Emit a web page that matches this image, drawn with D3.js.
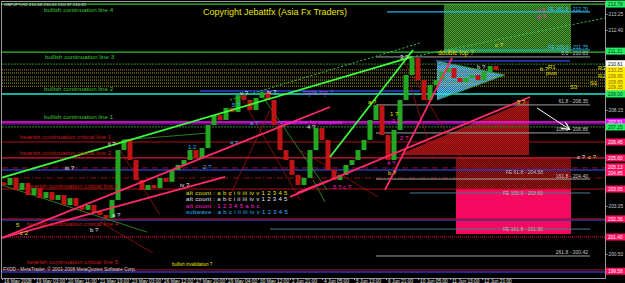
<!DOCTYPE html>
<html>
<head>
<meta charset="utf-8">
<script src="https://cdn.jsdelivr.net/npm/d3@7"></script>
<style>
  body { margin: 0; background: #000; }
  svg { display: block; font-family: 'Liberation Sans', Arial, sans-serif; }
</style>
</head>
<body>
<div id="graf"></div>
<script>
// closes, one every 3 bars (H2), first at bar 1
const firstOpen = 204.30
const closes = [204.16, 204.54, 203.90, 204.27, 203.63, 204.00, 203.47, 203.79, 203.37, 203.63,
  203.10, 203.47, 203.05, 202.84, 203.10, 202.73, 202.57, 202.41, 203.37, 206.02,
  206.56, 205.49, 204.43, 203.90, 204.16, 204.00, 204.54, 204.33, 204.96, 205.23,
  205.49, 206.02, 205.60, 206.13, 207.35, 207.88, 207.62, 208.26, 208.04, 208.94,
  208.68, 208.15, 208.79, 209.10, 208.68, 207.35, 206.02, 205.49, 204.70, 204.16,
  204.54, 206.02, 207.19, 206.56, 204.96, 204.43, 204.70, 205.23, 205.49, 206.02,
  206.56, 207.62, 208.41, 206.82, 205.49, 207.09, 208.68, 210.01, 210.91, 209.74,
  208.68, 209.48, 209.74, 210.17, 210.38, 209.85, 209.64, 209.85, 210.01, 209.74,
  210.17, 210.49, 210.28]

const timeLabels = ['16 May 2008', '19 May 03:00', '20 May 11:00', '21 May 19:00', '23 May 03:00',
  '26 May 12:00', '27 May 20:00', '29 May 04:00', '30 May 12:00', '2 Jun 21:00', '4 Jun 05:00',
  '5 Jun 13:00', '6 Jun 21:00', '10 Jun 05:00', '11 Jun 13:00', '12 Jun 21:00']

const priceTicks = [213.25, 212.40, 211.55, 210.70, 209.85, 209.00, 208.15, 207.30, 206.45,
  205.60, 204.75, 203.90, 203.05, 202.20, 201.35, 200.50]

const levelPrices = [213.78, 211.23, 209.00, 207.51, 206.45, 205.60, 203.95, 202.36, 199.65]
const levelNames = ['bullish continuation line 4', 'bullish continuation line 3',
  'bullish continuation line 2', 'bullish continuation line 1',
  'bearish continuation critical line 1', 'bearish continuation critical line 2',
  'bearish continuation critical line 3', 'bearish continuation critical line 4',
  'bearish continuation critical line 5']
const levelKinds = ['bull', 'bull', 'cyan', 'magenta', 'bear', 'bear2', 'bear', 'bear', 'bear']

const minorPrices = [210.59, 210.28, 210.12, 209.90, 209.74, 209.58, 209.42, 207.41, 207.25,
  205.07, 204.96, 204.54, 202.30, 201.40, 199.54]
const minorKinds = ['greenDot', 'pivot', 'pivot', 'pivot', 'pivot', 'pivot', 'pivot', 'purple',
  'greenDot', 'redDash', 'navy', 'redDashDot', 'navy', 'pinkDot', 'navy']

// partial horizontal segments: [bar from, bar to, price]
const cyanSegs = [[192.5, 294, 213.36], [221, 294, 211.34]]
const blueSegs = [[217, 284, 210.75], [99, 209, 209.16]]
const steelSegs = [[204, 294, 203.74], [134, 294, 201.82]]
const fibSegs = [[187, 294, 210.97], [187, 294, 208.42], [187, 294, 206.93], [187, 294, 204.48], [187, 294, 200.39]]
const fibNames = ['0.0 - 210.83', '61.8 - 208.35', '100.0 - 206.86', '161.8 - 204.40', '261.8 - 200.42']
const feNames = ['FE 161.8 - 212.70', 'FE 100.0 - 211.75']
const feZoneNames = ['FE 61.8 - 204.58', 'FE 100.0 - 203.60', 'FE 161.8 - 201.90']
const feZonePrices = [204.85, 203.74, 201.82]

// zones: [bar from, bar to, price low, price high]
const greenZone = [221, 284.5, 211.23, 213.78]
const redZone = [227, 284.5, 203.95, 205.60]
const pinkZone = [227, 284.5, 201.56, 203.95]
const redWedge = [[198, 205.76], [263.5, 208.68], [263.5, 205.76]]
const triangle = [[217.5, 210.75], [217.5, 208.68], [251.5, 210.01]]

// trend lines: [bar1, price1, bar2, price2]
const limeLines = [[0, 204.56, 205, 210.97], [164, 205.65, 205.5, 211.34]]
const limeDotted = [[114, 208.68, 209, 211.71], [205, 210.97, 301.5, 213.04]]
const pinkLines = [[0, 201.35, 164, 208.31], [0, 201.35, 111.5, 204.59], [144, 203.53, 264, 208.84],
  [191.5, 203.90, 225, 210.91], [147.5, 203.74, 163, 204.38]]
const redLines = [[49, 202.20, 75.5, 200.55], [59, 206.02, 79, 202.57], [119, 208.95, 149, 203.37],
  [134, 208.15, 113, 203.37], [149, 206.02, 188, 203.53], [204, 209.48, 215.5, 205.71],
  [200, 210.90, 232, 205.20]]
const greenLines = [[0, 204.16, 72.5, 201.66], [130.5, 208.84, 162.5, 203.90], [60.5, 206.56, 104, 206.93],
  [155.5, 204.43, 161.5, 203.26], [217.5, 210.75, 251.5, 210.01], [217.5, 208.68, 251.5, 210.01]]
const arrowLine = [267.5, 208.26, 283.5, 207.14]

// wave labels: [bar, price, text, count]
const waves = [[7, 202.04, '5', 'alt1'], [9, 201.61, 'c 2', 'alt1'], [44, 201.75, 'b ?', 'alt2'],
  [55, 202.57, 'a ?', 'alt2'], [53, 206.36, 'ii ?', 'alt2'], [31.5, 205.07, 'iii ?', 'alt2'],
  [89, 204.16, 'iv ?', 'alt2'], [93, 206.18, '1 2', 'sub'], [100.5, 205.12, '2 ?', 'sub'],
  [115, 208.42, '5 ?', 'sub'], [114, 206.40, '4 ?', 'sub'], [124, 207.46, 'a ?', 'sub'],
  [119, 209.05, 'v ?', 'alt2'], [132.5, 209.11, 'iv ?', 'alt2'], [152.5, 207.25, '4 ?', 'alt2'],
  [183, 208.58, 'a ?', 'alt1'], [194, 207.94, '1 ?', 'alt1'], [195, 207.57, '1 2', 'alt3'],
  [199, 206.66, '2 ?', 'alt3'], [192.5, 205.33, '4 ?', 'alt3'], [193, 204.80, 'b ?', 'alt1'],
  [165.5, 204.06, '5 ? c ?', 'alt3'], [199, 210.97, '3 ?', 'alt2'], [246.5, 211.61, 'c ?', 'alt1'],
  [237.5, 210.44, 'b ?', 'alt2'], [269, 210.33, 'b ?', 'alt1'], [257.5, 208.58, '5 ?', 'alt1'],
  [287.5, 205.65, 'c ?', 'alt2'], [293, 205.65, 'c ?', 'alt1'], [267.5, 213.46, 'v ?', 'alt3'],
  [267.5, 213.10, 'iii ?', 'alt3']]

const legendLines = ['alt count : a b c i ii iii iv v 1 2 3 4 5', 'alt count : a b c i ii iii iv v 1 2 3 4 5',
  'alt count : 1 2 3 4 5 a b c', 'subwave : a b c i ii iii iv v 1 2 3 4 5']
const legendCounts = ['alt1', 'alt2', 'alt3', 'sub']

// right price boxes
const boxPrices = [213.78, 211.28, 210.61, 210.25, 209.95, 209.65, 209.35, 209.00, 207.51,
  207.25, 206.45, 205.60, 205.13, 204.82, 203.95, 202.36, 201.40, 199.58]
const boxTexts = ['213.78', '211.31', '210.61', '210.25', '209.95', '209.65', '209.35',
  '209.00', '207.51', '207.25', '206.45', '205.60', '205.13', '204.85', '203.95', '202.36', '201.40', '199.58']
const boxKinds = ['green', 'green', 'white', 'yellow', 'yellow', 'yellow', 'yellow', 'green',
  'magenta', 'green', 'pink', 'pink', 'pink', 'pink', 'pink', 'pink', 'pink', 'pink']

const W = 625, H = 283
const svg = d3.select('#graf').append('svg').attr('width', W).attr('height', H)

const x = d3.scaleLinear().domain([0, 301.5]).range([2, 605])
const y = d3.scaleLinear().domain([199.22, 213.89]).range([278, 2])

const countColor = { alt1: '#e6e600', alt2: '#e8e8e8', alt3: '#ff22cc', sub: '#22b8ff' }
const levelStyle = {
  bull: { c: '#2ec02e', w: 1.2 }, cyan: { c: '#22e8d0', w: 1.5 }, magenta: { c: '#ff10ff', w: 1.5 },
  bear: { c: '#b01010', w: 1 }, bear2: { c: '#d81838', w: 1.2 }
}
const minorStyle = {
  greenDot: { c: '#2a8a2a', w: 1, d: '2,1' }, pivot: { c: '#a8a020', w: 1, d: '1,1' },
  purple: { c: '#a020c0', w: 1, d: null }, redDash: { c: '#a01010', w: 1, d: '6,4' },
  navy: { c: '#2838b8', w: 1.5, d: null }, redDashDot: { c: '#901010', w: 1, d: '6,2,1,2' },
  pinkDot: { c: '#ff1060', w: 1, d: '1,1' }
}

const defs = svg.append('defs')
function dotPattern(id, base, dot) {
  const p = defs.append('pattern').attr('id', id).attr('width', 2).attr('height', 2)
    .attr('patternUnits', 'userSpaceOnUse')
  p.append('rect').attr('width', 2).attr('height', 2).attr('fill', base)
  p.append('rect').attr('width', 1).attr('height', 1).attr('fill', dot)
  p.append('rect').attr('x', 1).attr('y', 1).attr('width', 1).attr('height', 1).attr('fill', dot)
}
dotPattern('pGreen', '#245a18', '#4c9a32')
dotPattern('pRed', '#5a0808', '#981818')
dotPattern('pWedge', '#800c0c', '#a81818')
dotPattern('pBlue', '#2a88c8', '#70c8f0')
defs.append('marker').attr('id', 'arr').attr('viewBox', '0 0 10 10').attr('refX', 9).attr('refY', 5)
  .attr('markerWidth', 8).attr('markerHeight', 8).attr('orient', 'auto')
  .append('path').attr('d', 'M0,0 L10,5 L0,10').attr('fill', 'none').attr('stroke', '#fff').attr('stroke-width', 1.5)

svg.append('rect').attr('width', W).attr('height', H).attr('fill', '#000')

const g = svg.append('g')

// zones
function zone(z, fill) {
  g.append('rect').attr('x', x(z[0])).attr('y', y(z[3]))
    .attr('width', x(z[1]) - x(z[0])).attr('height', y(z[2]) - y(z[3])).attr('fill', fill)
}
zone(greenZone, 'url(#pGreen)')
zone(redZone, 'url(#pRed)')
zone(pinkZone, '#f50a5f')
const poly = d3.line().x(d => x(d[0])).y(d => y(d[1]))
g.append('path').attr('d', poly(redWedge) + 'Z').attr('fill', 'url(#pWedge)')
g.append('path').attr('d', poly(triangle) + 'Z').attr('fill', 'url(#pBlue)').attr('opacity', 0.9)

// horizontal lines
minorPrices.forEach((p, i) => {
  const s = minorStyle[minorKinds[i]]
  g.append('line').attr('x1', 2).attr('x2', 605).attr('y1', y(p)).attr('y2', y(p))
    .attr('stroke', s.c).attr('stroke-width', s.w).attr('stroke-dasharray', s.d)
})
levelPrices.forEach((p, i) => {
  const s = levelStyle[levelKinds[i]]
  g.append('line').attr('x1', 2).attr('x2', 605).attr('y1', y(p)).attr('y2', y(p))
    .attr('stroke', s.c).attr('stroke-width', s.w)
})
function segs(list, color, w) {
  list.forEach(s => {
    g.append('line').attr('x1', x(s[0])).attr('x2', x(s[1])).attr('y1', y(s[2])).attr('y2', y(s[2]))
      .attr('stroke', color).attr('stroke-width', w)
  })
}
segs(cyanSegs, '#20b8e0', 1.2)
segs(blueSegs, '#2c40d0', 1.5)
segs(steelSegs, '#4a7890', 1)
segs(fibSegs, '#a0a0a0', 1)

// trend lines
function lines(list, color, w, dash) {
  list.forEach(l => {
    g.append('line').attr('x1', x(l[0])).attr('y1', y(l[1])).attr('x2', x(l[2])).attr('y2', y(l[3]))
      .attr('stroke', color).attr('stroke-width', w).attr('stroke-dasharray', dash || null)
  })
}
lines(redLines, '#a01010', 0.8)
lines(greenLines, '#3a9a2a', 0.8)
lines(limeDotted, '#40c040', 1, '2,2')

// candles
const step = 3
const openOf = i => i ? closes[i - 1] : firstOpen
g.selectAll('rect.candle').data(closes).enter().append('rect')
  .attr('class', 'candle')
  .attr('x', (d, i) => x(1 + i * step) - 2.5)
  .attr('width', 5)
  .attr('y', (d, i) => y(Math.max(d, openOf(i))))
  .attr('height', (d, i) => Math.max(1, Math.abs(y(d) - y(openOf(i)))))
  .attr('fill', (d, i) => d >= openOf(i) ? '#22a822' : '#c01414')

lines(pinkLines, '#ff2a6a', 1.8)
lines(limeLines, '#3cff3c', 1.8)
g.append('line').attr('x1', x(arrowLine[0])).attr('y1', y(arrowLine[1]))
  .attr('x2', x(arrowLine[2])).attr('y2', y(arrowLine[3]))
  .attr('stroke', '#fff').attr('stroke-width', 1).attr('marker-end', 'url(#arr)')

// level names
const nameX = [44, 45, 44, 44, 20, 20, 27, 27, 27]
const nameDy = [8, 7, -3, -3, -3, -3, -1, 7, -6]
levelPrices.forEach((p, i) => {
  g.append('text').attr('x', nameX[i]).attr('y', y(p) + nameDy[i])
    .attr('font-size', 6.2).attr('fill', i < 4 ? '#38c838' : '#d01818').text(levelNames[i])
})

// small labels
const small = (tx, ty, s, c, anchor) => g.append('text').attr('x', tx).attr('y', ty)
  .attr('font-size', 5).attr('fill', c).attr('text-anchor', anchor || 'start').text(s)
fibSegs.forEach((s, i) => small(x(s[1]) - 2, y(s[2]) - 1.5, fibNames[i], '#c8c8c8', 'end'))
cyanSegs.forEach((s, i) => small(x(s[1]) - 2, y(s[2]) - 1.2, feNames[i], '#30c8f0', 'end'))
feZonePrices.forEach((p, i) => small(x(270.5), y(p) + 2, feZoneNames[i], '#b8b8b8', 'end'))

waves.forEach(w => {
  g.append('text').attr('x', x(w[0])).attr('y', y(w[1]) + 2).attr('font-size', 6)
    .attr('fill', countColor[w[3]]).text(w[2])
})
legendLines.forEach((s, i) => {
  g.append('text').attr('x', x(92)).attr('y', y(203.74) + 2 + i * 6.5)
    .attr('font-size', 6).attr('fill', countColor[legendCounts[i]]).attr('letter-spacing', 0.3).text(s)
})

const note = (b, p, s, c, fs) => g.append('text').attr('x', x(b)).attr('y', y(p) + 2)
  .attr('font-size', fs || 6).attr('fill', c).text(s)
note(218, 211.18, 'double top ?', '#e6e600', 6.5)
note(150.5, 209.05, 'triple top ?', '#b050e0', 6.5)
note(139, 207.51, 'critical line for complete', '#ff20ff', 6)
note(273, 210.44, 'R1', '#e6e600', 6)
note(272, 210.12, 'pivot', '#e6e600', 5)
note(298, 210.36, 'R3', '#e6e600', 6)
note(298, 209.96, 'R2', '#e6e600', 6)
note(294, 209.58, 'S1', '#e6e600', 6)
note(284, 209.36, 'S3', '#e6e600', 6)
note(85, 199.96, 'bullish invalidation ?', '#e6e600', 4.5)

svg.append('text').attr('x', 203).attr('y', 15).attr('font-size', 9).attr('fill', '#e6e600')
  .text('Copyright Jebattfx (Asia Fx Traders)')
svg.append('text').attr('x', 4).attr('y', 5.5).attr('font-size', 4.4).attr('fill', '#e0e0e0')
  .text('GBPJPY,H2  210.58 210.61 210.37 210.61')
svg.append('text').attr('x', 3).attr('y', 271).attr('font-size', 4.8).attr('fill', '#d0d0d0')
  .text('FXDD - MetaTrader, © 2001-2008 MetaQuotes Software Corp.')

// frame and axes
svg.append('rect').attr('x', 1.5).attr('y', 1.5).attr('width', 604).attr('height', 277)
  .attr('fill', 'none').attr('stroke', '#9a9a9a').attr('stroke-width', 1)

const xAxis = svg.append('g').attr('transform', 'translate(0,278)')
  .call(d3.axisBottom(x).tickValues(timeLabels.map((d, i) => i * 16))
    .tickFormat((d, i) => timeLabels[i]).tickSize(2).tickSizeOuter(0))
xAxis.select('.domain').remove()
xAxis.selectAll('line').attr('stroke', '#9a9a9a')
xAxis.selectAll('text').attr('fill', '#e0e0e0').attr('font-size', 4.8).attr('text-anchor', 'start')
  .attr('x', 1.5).attr('y', 2).attr('font-family', "'Liberation Sans', Arial, sans-serif")

// price labels hidden under a coloured box, as on the terminal
const freeTicks = priceTicks.filter(t => boxPrices.every(b => Math.abs(y(t) - y(b)) > 7))
const yAxis = svg.append('g').attr('transform', 'translate(605.5,0)')
  .call(d3.axisRight(y).tickValues(freeTicks).tickFormat(d3.format('.2f')).tickSize(2).tickSizeOuter(0))
yAxis.select('.domain').remove()
yAxis.selectAll('line').attr('stroke', '#9a9a9a')
yAxis.selectAll('text').attr('fill', '#c8c8c8').attr('font-size', 4.8).attr('x', 3)
  .attr('font-family', "'Liberation Sans', Arial, sans-serif")

const boxFill = { green: '#22ee66', white: '#ffffff', yellow: '#ffee00', magenta: '#ff10ff', pink: '#ff1060' }
const boxText = { green: '#104010', white: '#000', yellow: '#806000', magenta: '#fff', pink: '#fff' }
boxPrices.forEach((p, i) => {
  const k = boxKinds[i]
  svg.append('rect').attr('x', 606).attr('y', y(p) - 3.5).attr('width', 19).attr('height', 7).attr('fill', boxFill[k])
  svg.append('text').attr('x', 608).attr('y', y(p) + 2).attr('font-size', 4.8).attr('fill', boxText[k]).text(boxTexts[i])
})
</script>
</body>
</html>
